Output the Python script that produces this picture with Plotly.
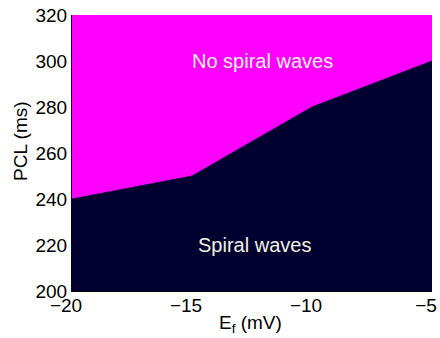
import plotly.graph_objects as go

E_f = [-20, -15, -10, -5]
PCL = [240, 250, 280, 300]
x_range = [-20, -5]
y_range = [200, 320]
x_ticks = [-20, -15, -10, -5]
x_ticktext = ["\u221220", "\u221215", "\u221210", "\u22125"]
y_ticks = [200, 220, 240, 260, 280, 300, 320]

magenta = "#FF00FF"
navy = "#000030"
FONT = "Liberation Sans, Arial, sans-serif"

fig = go.Figure()
# region above boundary (no spiral waves)
fig.add_trace(go.Scatter(
    x=E_f + [x_range[1], x_range[0]],
    y=PCL + [y_range[1], y_range[1]],
    fill="toself", fillcolor=magenta, mode="lines",
    line=dict(width=0, color=magenta), hoverinfo="skip", showlegend=False))
# region below boundary (spiral waves)
fig.add_trace(go.Scatter(
    x=E_f + [x_range[1], x_range[0]],
    y=PCL + [y_range[0], y_range[0]],
    fill="toself", fillcolor=navy, mode="lines",
    line=dict(width=0.8, color=navy), hoverinfo="skip", showlegend=False))

fig.add_annotation(x=-12.05, y=300, text="No spiral waves", showarrow=False,
                   font=dict(size=20, color="#FFF0FF", family=FONT))
fig.add_annotation(x=-12.4, y=220, text="Spiral waves", showarrow=False,
                   font=dict(size=20, color="#F2F2E2", family=FONT))

# axis titles
fig.add_annotation(xref="paper", yref="paper", x=0.497, y=-0.07, xanchor="center", yanchor="top",
                   text="E<sub>f</sub> (mV)", showarrow=False,
                   font=dict(size=19, color="black", family=FONT))
fig.add_annotation(xref="paper", yref="paper", x=-0.145, y=0.543, xanchor="center", yanchor="middle",
                   textangle=-90, text="PCL (ms)", showarrow=False,
                   font=dict(size=19, color="black", family=FONT))

fig.update_layout(
    width=440, height=338,
    margin=dict(l=72, r=8, t=15, b=47, autoexpand=False),
    paper_bgcolor="white", plot_bgcolor=magenta,
    font=dict(family=FONT, size=19, color="black"),
    xaxis=dict(range=x_range, tickvals=x_ticks, ticktext=x_ticktext, automargin=False,
               showgrid=False, zeroline=False, showline=True, linecolor="black", linewidth=1,
               ticks="", ticklen=0, ticklabelshift=-6, ticklabeloverflow="allow",
               ticklabelstandoff=-3),
    yaxis=dict(range=y_range, tickvals=y_ticks, showgrid=False, zeroline=False, automargin=False,
               showline=True, linecolor="black", linewidth=1, ticks="", ticklen=0,
               ticklabelstandoff=0),
)

fig.write_html("out.html", config={"displayModeBar": False},
               post_script="document.body.style.margin='0';document.body.style.padding='0';")
